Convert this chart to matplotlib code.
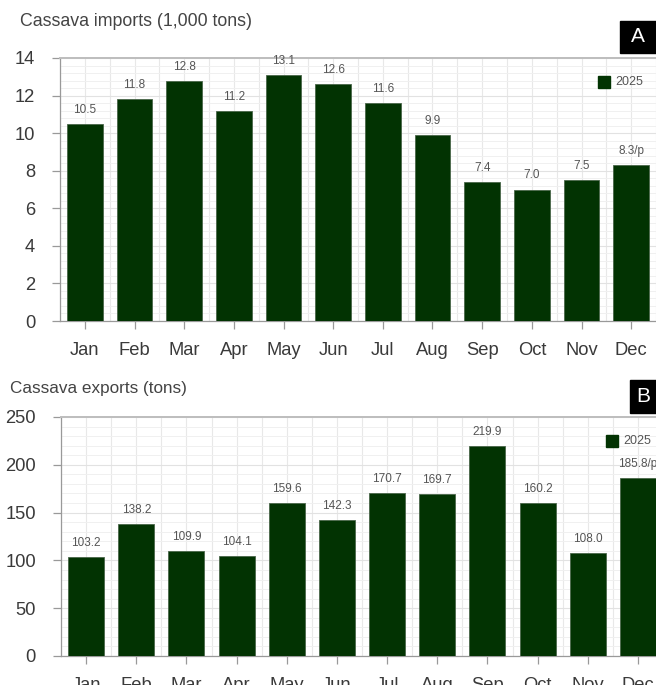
import matplotlib
matplotlib.use("Agg")
import matplotlib.pyplot as plt
from matplotlib.ticker import MultipleLocator, FixedLocator
from matplotlib.patches import Rectangle

plt.rcParams['font.family'] = ['Liberation Sans', 'DejaVu Sans']

months = ["Jan", "Feb", "Mar", "Apr", "May", "Jun", "Jul", "Aug", "Sep", "Oct", "Nov", "Dec"]
imports = [10.5, 11.8, 12.8, 11.2, 13.1, 12.6, 11.6, 9.9, 7.4, 7.0, 7.5, 8.3]
import_labels = ["10.5", "11.8", "12.8", "11.2", "13.1", "12.6", "11.6", "9.9", "7.4", "7.0", "7.5", "8.3/p"]
exports = [103.2, 138.2, 109.9, 104.1, 159.6, 142.3, 170.7, 169.7, 219.9, 160.2, 108.0, 185.8]
export_labels = ["103.2", "138.2", "109.9", "104.1", "159.6", "142.3", "170.7", "169.7", "219.9", "160.2", "108.0", "185.8/p"]
series_name = "2025"

BAR = "#023302"
EDGE = "#4a664a"
TXT = "#444444"

W, H = 656, 685
fig = plt.figure(figsize=(W / 100, H / 100), dpi=100)

def fx(px):
    return px / W

def fy(py):
    return 1 - py / H

def panel(rect, vals, labels, ymax, major, minor, title, title_xy, title_fs, badge, badge_box, leg_xy, label_off):
    ax = fig.add_axes(rect)
    x = list(range(len(months)))
    ax.bar(x, vals, width=0.72, color=BAR, edgecolor=EDGE, linewidth=0.6, zorder=3)
    ax.set_xlim(-0.5, len(months) - 0.5)
    ax.set_ylim(0, ymax)
    ax.yaxis.set_major_locator(MultipleLocator(major))
    ax.yaxis.set_minor_locator(MultipleLocator(minor))
    ax.set_xticks(x)
    ax.set_xticklabels(months)
    ax.xaxis.set_minor_locator(FixedLocator([i - 0.5 for i in range(len(months) + 1)]))
    ax.grid(which='major', axis='y', color='#e2e2e2', linewidth=0.8, zorder=0)
    ax.grid(which='minor', axis='y', color='#f0f0f0', linewidth=0.7, zorder=0)
    ax.grid(which='both', axis='x', color='#e8e8e8', linewidth=0.8, zorder=0)
    ax.tick_params(axis='both', which='major', labelsize=13.2, labelcolor='#3a3a3a',
                   color='#999999', length=6, width=0.9)
    ax.tick_params(axis='y', which='major', pad=12)
    ax.tick_params(axis='x', which='major', pad=9)
    ax.tick_params(which='minor', length=0)
    for s in ['left', 'bottom']:
        ax.spines[s].set_color('#999999')
        ax.spines[s].set_linewidth(0.9)
    ax.spines['top'].set_color('#bdbdbd')
    ax.spines['top'].set_linewidth(1.4)
    ax.spines['right'].set_visible(False)
    for xi, v, lab in zip(x, vals, labels):
        ax.annotate(lab, (xi, v), xytext=(0, label_off), textcoords='offset pixels',
                    ha='center', va='bottom', fontsize=8.5, color='#555555', zorder=4)
    fig.text(fx(title_xy[0]), fy(title_xy[1]), title, fontsize=title_fs, color=TXT,
             ha='left', va='center')
    bx0, by0, bx1, by1 = badge_box
    fig.patches.append(Rectangle((fx(bx0), fy(by1)), fx(bx1 - bx0), fy(by0) - fy(by1),
                                 transform=fig.transFigure, color='black', zorder=5))
    fig.text(fx((bx0 + bx1) / 2), fy((by0 + by1) / 2), badge, color='white',
             fontsize=15, ha='center', va='center', zorder=6)
    lx, ly = leg_xy
    fig.patches.append(Rectangle((fx(lx), fy(ly + 6)), fx(12), fy(ly - 6) - fy(ly + 6),
                                 transform=fig.transFigure, color=BAR, zorder=5))
    fig.text(fx(lx + 17), fy(ly), series_name, fontsize=9, color='#555555',
             ha='left', va='center', zorder=6)
    return ax

panel([fx(60), fy(321), fx(596), fy(58) - fy(321)], imports, import_labels, 14, 2, 0.4,
      "Cassava imports (1,000 tons)", (20, 22), 12.8, "A", (620, 21, 656, 53), (598, 82), 8)
panel([fx(61), fy(656), fx(602), fy(417) - fy(656)], exports, export_labels, 250, 50, 10,
      "Cassava exports (tons)", (10, 388), 12.3, "B", (630, 380, 656, 413), (606, 441), 8)

fig.savefig("out.png", dpi=100)
